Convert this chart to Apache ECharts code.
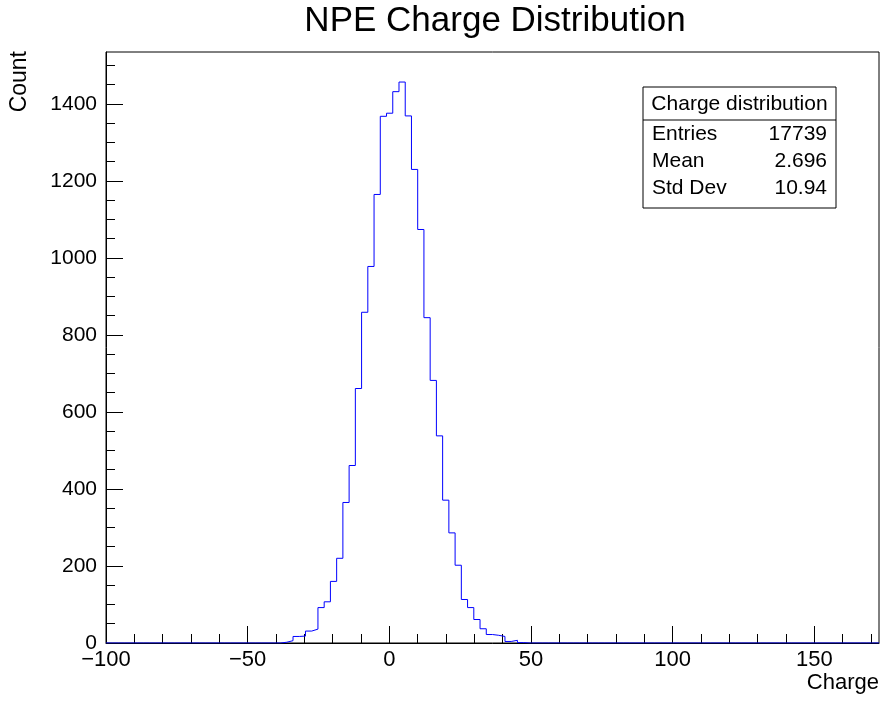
<!DOCTYPE html>
<html>
<head>
<meta charset="utf-8">
<script src="https://cdn.jsdelivr.net/npm/echarts@6/dist/echarts.min.js"></script>
<style>
html,body{margin:0;padding:0;background:#fff;}
#chart{width:883px;height:702px;}
</style>
</head>
<body>
<div id="chart"></div>
<script>
// ---- data ----
var binStart = -100;
var binWidth = 2.2;
var counts = [
  0,0,0,0,0,0,0,0,0,0, 0,0,0,0,0,0,0,0,0,0, 0,0,0,0,0,0,0,0,
  2,6,17,18,31,36,92,107,160,220,365,461,661,859,978,1165,1368,1376,1432,1457,
  1369,1230,1074,845,682,538,371,286,202,113,92,61,37,22,20,17,4,7,1,
  0,0,0,0,0,0,0,0,0,0, 0,0,0,0,0,0,0,0,0,0, 0,0,0,0,0,0,0,0,0,0,
  0,0,0,0,0,0,0,0,0,0, 0,0,0,0,0,0,0,0,0,0, 0,0,0,0,0,0,0
];
var xMajorTicks = [-100, -50, 0, 50, 100, 150];
var xMinorTicks = [-90,-80,-70,-60,-40,-30,-20,-10,10,20,30,40,60,70,80,90,110,120,130,140,160,170];
var yMajorTicks = [0, 200, 400, 600, 800, 1000, 1200, 1400];
var yMinorTicks = [50,100,150,250,300,350,450,500,550,650,700,750,850,900,950,1050,1100,1150,1250,1300,1350,1450,1500];
var statsTitle = 'Charge distribution';
var statsNames = ['Entries', 'Mean', 'Std Dev'];
var statsValues = ['17739', '2.696', '10.94'];
var chartTitle = 'NPE Charge Distribution';
var xName = 'Charge';
var yName = 'Count';

// ---- build ----
var FONT = "'Liberation Sans', Arial, Helvetica, sans-serif";
var xMin = binStart, xMax = binStart + binWidth * counts.length;
var stepData = [];
for (var i = 0; i < counts.length; i++) {
  stepData.push([binStart + i * binWidth, counts[i]]);
}
stepData.push([xMax, counts[counts.length - 1]]);

function fmtMinus(v) { return String(v).replace('-', '\u2212'); }
function fmtPlain(v) { return String(v); }

var chart = echarts.init(document.getElementById('chart'), null, {renderer: 'canvas'});

var gridL = 106, gridT = 52, gridR = 4, gridB = 59;

var statsGraphics = [];
var bx = 643, by = 87, bw = 193, bh = 121, hh = 33, rowH = 27;
statsGraphics.push({type: 'rect', shape: {x: bx, y: by, width: bw, height: bh},
  style: {fill: '#fff', stroke: '#000', lineWidth: 1}, z: 100});
statsGraphics.push({type: 'line', shape: {x1: bx, y1: by + hh, x2: bx + bw, y2: by + hh},
  style: {stroke: '#000', lineWidth: 1}, z: 101});
statsGraphics.push({type: 'text', x: bx + bw / 2, y: by + hh / 2 + 0.5, z: 102,
  style: {text: statsTitle, font: '21px ' + FONT, fill: '#000', align: 'center', verticalAlign: 'middle'}});
for (var r = 0; r < statsNames.length; r++) {
  var cy = by + hh + 14 + r * rowH;
  statsGraphics.push({type: 'text', x: bx + 9, y: cy, z: 102,
    style: {text: statsNames[r], font: '21px ' + FONT, fill: '#000', align: 'left', verticalAlign: 'middle'}});
  statsGraphics.push({type: 'text', x: bx + bw - 9, y: cy, z: 102,
    style: {text: statsValues[r], font: '21px ' + FONT, fill: '#000', align: 'right', verticalAlign: 'middle'}});
}

var axisCommon = {
  splitLine: {show: false},
  axisPointer: {show: false}
};

var option = {
  animation: false,
  backgroundColor: '#fff',
  textStyle: {fontFamily: FONT},
  grid: {left: gridL, top: gridT, right: gridR, bottom: gridB, show: true,
    borderColor: '#000', borderWidth: 1, backgroundColor: 'transparent'},
  xAxis: [
    Object.assign({
      type: 'value', min: xMin, max: xMax, position: 'bottom',
      axisLine: {show: true, onZero: false, lineStyle: {color: '#000', width: 1}},
      axisTick: {show: true, inside: true, length: 17, customValues: xMajorTicks, lineStyle: {color: '#000', width: 1}},
      axisLabel: {show: true, customValues: xMajorTicks, formatter: fmtMinus, fontSize: 22, color: '#000', fontFamily: FONT, margin: 6}
    }, axisCommon),
    Object.assign({
      type: 'value', min: xMin, max: xMax, position: 'bottom',
      axisLine: {show: false, onZero: false},
      axisTick: {show: true, inside: true, length: 9, customValues: xMinorTicks, lineStyle: {color: '#000', width: 1}},
      axisLabel: {show: false}
    }, axisCommon)
  ],
  yAxis: [
    Object.assign({
      type: 'value', min: 0, max: 1535, position: 'left',
      axisLine: {show: true, onZero: false, lineStyle: {color: '#000', width: 1}},
      axisTick: {show: true, inside: true, length: 17, customValues: yMajorTicks, lineStyle: {color: '#000', width: 1}},
      axisLabel: {show: true, customValues: yMajorTicks, formatter: fmtPlain, fontSize: 21, color: '#000', fontFamily: FONT, margin: 9}
    }, axisCommon),
    Object.assign({
      type: 'value', min: 0, max: 1535, position: 'left',
      axisLine: {show: false, onZero: false},
      axisTick: {show: true, inside: true, length: 9, customValues: yMinorTicks, lineStyle: {color: '#000', width: 1}},
      axisLabel: {show: false}
    }, axisCommon)
  ],
  series: [{
    type: 'line', xAxisIndex: 0, yAxisIndex: 0,
    step: 'end', data: stepData, showSymbol: false, symbol: 'none',
    lineStyle: {color: '#0000ff', width: 1}, z: 5, clip: true
  }],
  graphic: [
    {type: 'text', x: 495, y: 21, z: 50,
      style: {text: chartTitle, font: '35px ' + FONT, fill: '#000', align: 'center', verticalAlign: 'middle'}},
    {type: 'text', x: 20, y: 51, rotation: Math.PI / 2, z: 50,
      style: {text: yName, font: '23px ' + FONT, fill: '#000', align: 'right', verticalAlign: 'middle'}},
    {type: 'text', x: 879, y: 683, z: 50,
      style: {text: xName, font: '22px ' + FONT, fill: '#000', align: 'right', verticalAlign: 'middle'}}
  ].concat(statsGraphics)
};
chart.setOption(option);
</script>
</body>
</html>
